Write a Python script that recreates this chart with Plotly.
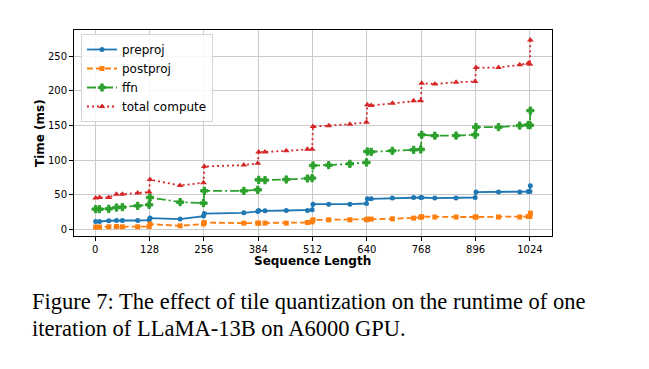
import plotly.graph_objects as go

seq_len = [1, 10, 32, 50, 64, 100, 127, 129, 200, 255, 257, 350, 383, 385, 400, 450,
           500, 511, 513, 550, 600, 639, 641, 650, 700, 750, 767, 769, 800, 850, 895,
           897, 950, 1000, 1020, 1024, 1025]

preproj = [11.5, 11.5, 12.6, 13.0, 13.0, 13.0, 13.6, 16.5, 15.0, 19.3, 23.0, 24.1, 26.0,
           27.4, 27.0, 27.4, 27.4, 28.4, 36.6, 36.4, 36.6, 37.5, 44.3, 44.3, 45.3, 46.2,
           46.2, 46.2, 45.3, 45.3, 46.2, 54.0, 54.0, 54.0, 54.8, 54.8, 63.0]

postproj = [3.5, 3.5, 3.9, 4.3, 3.9, 3.9, 4.3, 7.8, 5.3, 8.0, 10.0, 9.2, 9.2, 9.2, 9.2,
            9.2, 10.1, 11.0, 14.0, 14.0, 14.0, 14.0, 15.0, 15.0, 15.4, 16.4, 17.5, 18.5,
            18.0, 18.0, 18.0, 18.0, 18.0, 18.0, 18.8, 18.8, 23.5]

ffn = [29.4, 29.4, 29.9, 31.7, 32.3, 34.2, 35.6, 46.2, 39.5, 38.1, 55.8, 55.8, 57.3,
       71.7, 71.2, 72.2, 73.6, 74.2, 92.4, 92.9, 94.8, 96.7, 112.6, 112.1, 113.6, 115.0,
       115.5, 136.7, 135.4, 135.6, 136.7, 147.8, 147.8, 150.0, 151.0, 150.5, 171.7]

total = [45.3, 46.2, 46.2, 51.0, 51.0, 52.5, 54.0, 72.0, 63.5, 67.5, 91.0, 93.0, 95.5,
         112.0, 112.0, 113.6, 116.0, 116.0, 148.6, 149.6, 152.0, 155.0, 180.0, 179.0,
         182.4, 185.7, 186.0, 211.3, 210.0, 212.7, 213.6, 233.8, 233.8, 237.7, 240.0,
         238.7, 273.7]

x_ticks = [0, 128, 256, 384, 512, 640, 768, 896, 1024]
y_ticks = [0, 50, 100, 150, 200, 250]

series = [
    ("preproj", preproj, "#1f77b4", "solid", "circle", 5, 0),
    ("postproj", postproj, "#ff7f0e", "6px,3px", "square", 5, 0),
    ("ffn", ffn, "#2ca02c", "9px,3px,2px,3px", "cross", 6, 1),
    ("total compute", total, "#d62728", "2px,3px", "triangle-up", 6, 0),
]

fig = go.Figure()
for name, vals, color, dash, sym, msize, mlw in series:
    fig.add_trace(go.Scatter(
        x=seq_len, y=vals, name=name, mode="lines+markers",
        line=dict(color=color, width=1.8, dash=dash),
        marker=dict(symbol=sym, size=msize, color=color, line=dict(width=mlw, color=color)),
        legendgroup=name,
    ))

# page body has an 8px margin: the figure starts at (8, 8) of the window
OFF = 8
W, H = 649 - OFF, 369 - OFF
L, T = 74 - OFF, 30 - OFF
R, B = 649 - 552.5, 369 - 236
pw, ph = W - L - R, H - T - B

def px(xp):
    return (xp - OFF - L) / pw

def py(yp):
    return (H - B - (yp - OFF)) / ph

axis_common = dict(
    showline=True, linecolor="black", linewidth=1, mirror=True,
    showgrid=True, gridcolor="#cbcbcb", gridwidth=1.3,
    ticks="outside", ticklen=4, tickcolor="black", zeroline=False,
    tickfont=dict(family="DejaVu Sans", size=10, color="black"),
    automargin=False,
)

fig.update_layout(
    width=W, height=H,
    margin=dict(l=L, r=R, t=T, b=B, pad=0),
    paper_bgcolor="white", plot_bgcolor="white",
    xaxis=dict(range=[-50, 1076], tickvals=x_ticks, **axis_common),
    yaxis=dict(range=[-9.4, 288], tickvals=y_ticks, **axis_common),
    legend=dict(
        x=px(81), y=py(34), xanchor="left", yanchor="top",
        bgcolor="rgba(255,255,255,0.85)", bordercolor="#d5d5d5", borderwidth=1,
        font=dict(family="DejaVu Sans", size=12, color="black"),
        tracegroupgap=0, itemwidth=30,
    ),
    showlegend=True,
    annotations=[
        dict(text="<b>Sequence Length</b>", x=px(313), y=py(261), xref="paper", yref="paper",
             showarrow=False, xanchor="center", yanchor="middle",
             font=dict(family="DejaVu Sans", size=12, color="black")),
        dict(text="<b>Time (ms)</b>", x=px(40), y=py(133), xref="paper", yref="paper",
             showarrow=False, xanchor="center", yanchor="middle", textangle=-90,
             font=dict(family="DejaVu Sans", size=12, color="black")),
        dict(text="Figure 7: The effect of tile quantization on the runtime of one",
             x=px(30), y=py(301), xref="paper", yref="paper", showarrow=False,
             xanchor="left", yanchor="middle", align="left",
             font=dict(family="Liberation Serif", size=22.5, color="black")),
        dict(text="iteration of LLaMA-13B on A6000 GPU.",
             x=px(30), y=py(328), xref="paper", yref="paper", showarrow=False,
             xanchor="left", yanchor="middle", align="left",
             font=dict(family="Liberation Serif", size=22.5, color="black")),
    ],
)

fig.write_html("out.html")
